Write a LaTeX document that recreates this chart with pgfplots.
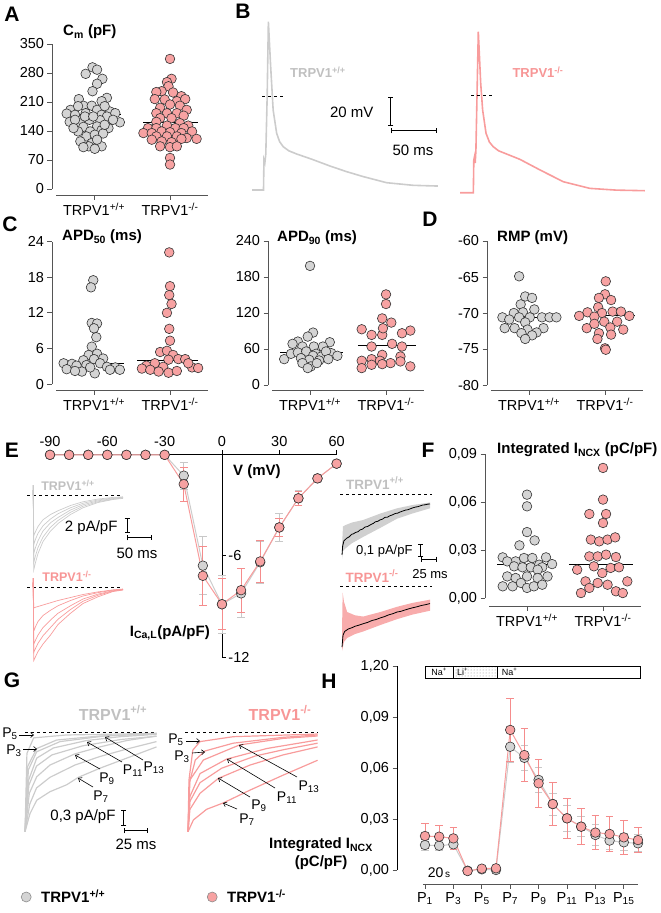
\documentclass[border=0pt]{standalone}
\usepackage{fontspec}
\setmainfont{Liberation Sans}
\usepackage{pgfplots}
\usepackage{pgfplotstable}
\pgfplotsset{compat=1.18}
\usetikzlibrary{patterns,arrows.meta}

\definecolor{wtfill}{RGB}{212,212,212}
\definecolor{kofill}{RGB}{247,162,162}
\definecolor{wttrace}{RGB}{204,204,204}
\definecolor{kotrace}{RGB}{248,156,156}
\definecolor{wttext}{RGB}{192,192,192}
\definecolor{kotext}{RGB}{247,150,150}
\definecolor{axgray}{RGB}{85,85,85}
\definecolor{wterr}{RGB}{200,200,200}
\definecolor{koerr}{RGB}{245,140,140}
\definecolor{wtband}{RGB}{208,208,208}
\definecolor{koband}{RGB}{248,172,172}

\newcommand\fs[1]{\fontsize{#1}{#1}\selectfont}

\pgfplotsset{
  dotax/.style={
    scale only axis, anchor=south west, clip=false,
    width=156pt, xmin=0.447, xmax=2.5,
    axis line style={draw=none},
    tick pos=left, tick align=outside, major tick length=4.5pt,
    tick style={axgray, line width=0.9pt},
    xtick={1,2},
    xticklabels={TRPV1\textsuperscript{+/+},TRPV1\textsuperscript{-/-}},
    tick label style={font=\fs{14.5}},
    scaled y ticks=false,
    /pgf/number format/assume math mode=true,
  },
  wtdot/.style={only marks, mark=*, mark size=4.8pt,
    mark options={fill=wtfill, draw=black!80, line width=0.6pt}},
  kodot/.style={only marks, mark=*, mark size=4.8pt,
    mark options={fill=kofill, draw=black!80, line width=0.6pt}},
  mean/.style={black, line width=0.9pt},
  trace/.style={hide axis, scale only axis, anchor=south west, clip=false},
}
\tikzset{axl/.style={axgray, line width=1pt}}

% ---------- membrane capacitance ----------
\pgfplotstableread{
x y
0.98 293.7
1.04 288
0.89 278
1.11 266
1.04 254
0.98 236
0.80 217
1.17 220
1.10 212
0.86 201
0.97 201
1.04 191
0.69 191
1.21 187
1.28 183
0.64 182
0.75 179
0.89 183
1.10 179
1.17 175
1.34 161
0.68 162
0.82 158
0.94 167
1.08 166
0.86 150
1.04 151
1.19 147
1.10 142
0.79 139
0.95 139
0.90 127
1.01 131
1.12 134
0.82 115
0.97 111
1.10 103
0.93 103
1.01 97
0.75 167
1.25 167
1.14 200
0.79 200
0.88 175
0.99 175
1.14 155
0.73 147
1.04 119
0.86 101
}\cmWT
\pgfplotstableread{
x y
2.00 314
2.02 266
1.96 258
1.98 248
1.89 236
1.82 234
2.04 233
2.15 224
1.80 217
1.93 216
2.09 212
2.20 217
2.00 204
2.13 201
1.87 196
2.22 191
1.82 183
1.96 183
2.09 183
2.18 177
1.87 171
2.02 171
1.82 162
2.13 159
1.96 153
2.24 153
1.71 147
1.82 147
2.07 147
2.18 147
1.65 135
1.76 135
1.89 139
2.00 137
2.15 135
2.29 139
1.82 127
1.96 127
2.09 127
2.22 123
2.35 121
1.76 119
1.89 115
2.02 113
2.15 121
2.00 101
2.09 103
1.87 103
2.00 75
2.00 59
}\cmKO

% ---------- APD50 ----------
\pgfplotstableread{
x y
0.99 17.5
0.96 16.3
0.97 10.3
1.04 10.2
1.00 9.4
1.03 7.9
0.97 6.3
0.93 4.9
1.04 5.1
1.12 4.3
0.86 4.0
1.00 4.2
0.60 3.5
0.71 3.4
0.77 3.1
0.90 3.2
1.08 3.5
1.17 2.9
1.28 2.8
0.64 2.5
0.84 2.1
1.01 1.8
1.21 2.4
1.34 2.4
0.95 2.8
0.75 2.2
}\apdfWT
\pgfplotstableread{
x y
1.99 22.2
2.00 16.5
1.99 15.0
2.02 13.5
1.96 12.0
1.99 9.3
2.00 7.3
1.87 5.4
1.96 5.6
2.04 4.9
2.11 4.2
2.20 4.2
1.98 4.1
1.69 3.1
1.80 3.5
1.63 2.6
1.74 2.4
1.91 2.9
2.29 2.8
2.37 2.7
1.85 2.1
1.98 1.9
2.09 2.2
2.24 3.5
}\apdfKO

% ---------- APD90 ----------
\pgfplotstableread{
x y
1.00 198.5
1.04 87.4
0.97 80.7
0.84 72.4
1.26 71.3
1.17 64.1
0.90 64.1
1.05 64.1
0.77 68.6
0.66 43.1
0.75 52.0
0.84 54.2
0.95 55.9
1.08 52.0
1.28 53.1
1.36 48.7
1.04 48.7
1.15 47.6
1.21 55.9
0.88 44.8
0.99 42.0
1.12 40.9
1.24 43.1
0.90 36.5
1.01 31.0
1.09 36.5
0.97 28.2
}\apdnWT
\pgfplotstableread{
x y
2.00 151
2.00 135
1.95 111
2.07 104
1.68 92.9
2.32 90.7
1.81 83.5
1.95 83.5
2.21 86.3
1.96 94.6
1.81 64.1
2.08 68.6
2.21 64.1
1.95 50.3
2.19 47.6
1.81 43.1
1.68 40.4
1.92 40.4
2.06 36.5
1.81 33.7
2.19 39.3
1.68 28.2
2.32 31.0
1.95 34.8
}\apdnKO

% ---------- resting membrane potential ----------
\pgfplotstableread{
x y
0.87 -64.9
0.95 -67.7
1.04 -67.9
0.89 -68.8
1.07 -69.5
0.80 -70.0
0.92 -69.9
0.65 -70.6
0.74 -70.9
1.17 -70.6
1.27 -70.6
1.36 -70.6
0.87 -70.6
1.01 -70.6
0.95 -71.3
0.81 -72.1
0.68 -72.1
0.98 -72.3
1.19 -72.1
0.90 -72.8
1.10 -72.7
1.04 -73.1
0.95 -73.6
}\rmpWT
\pgfplotstableread{
x y
2.01 -65.6
2.00 -67.4
1.92 -67.9
2.08 -68.2
1.91 -69.2
1.77 -69.9
1.96 -70.0
2.10 -69.8
2.21 -69.8
1.66 -70.4
1.86 -70.5
2.32 -70.4
1.99 -71.2
2.16 -71.2
1.76 -72.1
2.07 -72.0
1.86 -71.5
2.24 -72.3
1.92 -72.8
2.08 -73.0
1.90 -73.6
2.00 -74.9
2.01 -75.1
}\rmpKO

% ---------- integrated NCX current ----------
\pgfplotstableread{
x y
1.00 0.0646
1.00 0.0573
1.00 0.0412
0.90 0.0329
1.10 0.0360
0.68 0.0254
0.96 0.0250
1.07 0.0250
1.25 0.0254
0.85 0.0229
0.74 0.0229
1.33 0.0212
1.16 0.0208
0.83 0.0198
0.94 0.0192
1.05 0.0192
1.20 0.0192
1.14 0.0177
0.74 0.0135
0.85 0.0125
1.00 0.0135
1.14 0.0125
1.27 0.0135
0.68 0.0073
0.81 0.0073
0.92 0.0094
1.00 0.0063
1.09 0.0073
1.20 0.0083
}\ncxWT
\pgfplotstableread{
x y
2.00 0.0813
2.00 0.0615
1.82 0.0525
2.04 0.0525
2.00 0.0469
1.84 0.0365
1.95 0.0354
2.06 0.0365
2.16 0.0379
1.82 0.0260
1.93 0.0260
2.04 0.0271
2.17 0.0256
1.66 0.0177
1.88 0.0198
1.99 0.0156
2.10 0.0188
2.21 0.0192
1.77 0.0104
1.93 0.0094
2.06 0.0083
2.32 0.0104
1.71 0.0031
1.82 0.0063
2.17 0.0042
2.26 0.0031
}\ncxKO

% ---------- L-type Ca current, I-V ----------
\pgfplotstableread{
v i e
-90 -0.05 0
-80 -0.05 0
-70 -0.05 0
-60 -0.05 0
-50 -0.05 0
-40 -0.05 0
-30 -0.05 0
-20 -1.28 0.8
-10 -6.6 1.7
0 -8.88 1.7
10 -8.24 1.45
20 -6.4 1.25
30 -4.34 0.85
40 -2.62 0.45
50 -1.44 0.25
60 -0.57 0.12
}\ivWT
\pgfplotstableread{
v i e
-90 -0.05 0
-80 -0.05 0
-70 -0.05 0
-60 -0.05 0
-50 -0.05 0
-40 -0.05 0
-30 -0.05 0
-20 -1.78 1.0
-10 -7.2 1.75
0 -8.88 1.5
10 -8.05 1.3
20 -6.35 1.25
30 -4.34 0.55
40 -2.62 0.43
50 -1.44 0.2
60 -0.57 0.1
}\ivKO

% current traces (ms, pA/pF)
\pgfplotstableread{
t a1 a2 a3 a4 a5
0 0 0 0 0 0
0.4 1.3 1.3 1.3 1.3 1.3
1.5 -10 -9 -7.8 -6.6 -5.4
5 -9 -8.1 -7.0 -5.9 -4.9
10 -7.8 -7.0 -6.1 -5.1 -4.2
20 -6.2 -5.6 -4.8 -4.1 -3.3
35 -4.8 -4.3 -3.7 -3.2 -2.6
50 -3.8 -3.4 -3.0 -2.5 -2.1
75 -2.6 -2.3 -2.0 -1.7 -1.4
100 -1.7 -1.5 -1.3 -1.1 -0.9
130 -1.0 -0.9 -0.78 -0.66 -0.54
160 -0.6 -0.54 -0.47 -0.40 -0.32
180 -0.45 -0.40 -0.35 -0.30 -0.24
}\icaWT
\pgfplotstableread{
t a1 a2 a3 a4 a5
0 0 0 0 0 0
0.4 1.2 1.2 1.2 1.2 1.2
1.5 -9.8 -8.7 -7.6 -5.9 -2.8
5 -9.3 -8.2 -7.1 -5.3 -2.7
10 -8.6 -7.5 -6.4 -4.6 -2.6
20 -7.6 -6.5 -5.4 -3.8 -2.4
35 -6.4 -5.4 -4.4 -3.1 -2.1
50 -5.0 -4.3 -3.5 -2.5 -1.8
75 -3.5 -3.0 -2.5 -1.8 -1.4
100 -2.2 -1.9 -1.6 -1.2 -1.0
130 -1.3 -1.1 -0.95 -0.75 -0.65
160 -0.6 -0.55 -0.5 -0.42 -0.38
180 -0.4 -0.37 -0.33 -0.3 -0.27
}\icaKO

% ---------- integrated NCX during the Na/Li protocol ----------
\pgfplotstableread{
p v e
1 0.0147 0.003
2 0.0143 0.003
3 0.0151 0.003
4 -0.0004 0.0015
5 0.0004 0.001
6 0.0000 0.001
7 0.0725 0.009
8 0.0660 0.0075
9 0.0530 0.0075
10 0.0388 0.0065
11 0.0304 0.0075
12 0.0255 0.006
13 0.0206 0.006
14 0.0173 0.005
15 0.0163 0.005
16 0.0157 0.005
}\pulWT
\pgfplotstableread{
p v e
1 0.0200 0.0075
2 0.0196 0.0067
3 0.0186 0.0063
4 -0.0006 0.001
5 0.0008 0.001
6 0.0010 0.001
7 0.0824 0.0186
8 0.0676 0.0155
9 0.0510 0.0143
10 0.0388 0.0128
11 0.0304 0.0118
12 0.0255 0.0105
13 0.0220 0.0102
14 0.0212 0.0102
15 0.0192 0.0098
16 0.0176 0.0072
}\pulKO

\begin{document}
\begin{tikzpicture}[x=1pt,y=1pt]
\useasboundingbox (0,0) rectangle (661,-913);

% ===== A: Cm =====
\begin{axis}[dotax, at={(52pt,-195pt)}, height=151pt,
  ymin=-14.5, ymax=350, ytick={0,70,...,350}]
  \draw[axl] (axis cs:0.447,0) -- (axis cs:0.447,350);
  \draw[axl] (axis cs:0.5,-14.5) -- (axis cs:2.5,-14.5);
  \addplot[wtdot] table {\cmWT};
  \addplot[kodot] table {\cmKO};
  \addplot[mean] coordinates {(0.66,179) (1.36,179)};
  \addplot[mean] coordinates {(1.65,160) (2.37,160)};
\end{axis}

% ===== B: action potentials =====
\begin{axis}[trace, at={(252pt,-197.5pt)}, width=185.8pt, height=181.25pt,
  xmin=0, xmax=202, ymin=-70, ymax=55]
  \addplot[wttrace, line width=1.6pt] coordinates {
    (0,-64.8) (12.5,-64.8) (13,-44) (14,-46) (15,-40) (16.5,0) (17.8,51.3)
    (20.3,20.2) (23,-9.7) (26.8,-25.7) (30,-31.5) (34,-35) (40,-37.8) (48.6,-40)
    (65,-43.6) (84.8,-48.3) (103,-52.2) (121,-55.6) (146.4,-59.8) (175.3,-61.6) (202,-62.1)};
  \draw[black, dashed, line width=0.7pt] (axis cs:10.9,0) -- (axis cs:35.9,0);
  \draw[black, line width=1pt, {Bar[width=5pt]}-{Bar[width=5pt]}] (axis cs:151,-0.7) -- (axis cs:151,-20.7);
  \draw[black, line width=1pt, {Bar[width=5pt]}-{Bar[width=5pt]}] (axis cs:151,-24) -- (axis cs:201,-24);
\end{axis}
\begin{axis}[trace, at={(460pt,-196.5pt)}, width=185.8pt, height=181.25pt,
  xmin=0, xmax=202, ymin=-70, ymax=55]
  \addplot[kotrace, line width=1.6pt] coordinates {
    (0,-67.4) (14.5,-67.4) (15,-45) (15.8,-42.5) (16.5,-47) (17.3,-38) (18.5,0) (19.9,43.7)
    (22.5,8.1) (24.6,-10.3) (28.3,-26.4) (32,-32.5) (36.2,-35.7) (42,-38.5) (50.7,-40.7)
    (65.2,-44.4) (87,-51.7) (112.3,-59.8) (141.3,-64.4) (170,-65.6) (201,-66)};
  \draw[black, dashed, line width=0.7pt] (axis cs:12,0) -- (axis cs:35.9,0);
\end{axis}

% ===== C: APD50 =====
\begin{axis}[dotax, at={(52pt,-390pt)}, height=148.3pt,
  ymin=-1.01, ymax=24, ytick={0,6,...,24}]
  \draw[axl] (axis cs:0.447,0) -- (axis cs:0.447,24);
  \draw[axl] (axis cs:0.5,-1.01) -- (axis cs:2.5,-1.01);
  \addplot[wtdot] table {\apdfWT};
  \addplot[kodot] table {\apdfKO};
  \addplot[mean] coordinates {(0.57,3.5) (1.39,3.5)};
  \addplot[mean] coordinates {(1.57,4.0) (2.37,4.0)};
\end{axis}

% ===== C: APD90 =====
\begin{axis}[dotax, at={(268pt,-390pt)}, height=149pt,
  ymin=-8.33, ymax=240, ytick={0,60,...,240}]
  \draw[axl] (axis cs:0.447,0) -- (axis cs:0.447,240);
  \draw[axl] (axis cs:0.5,-8.33) -- (axis cs:2.5,-8.33);
  \addplot[wtdot] table {\apdnWT};
  \addplot[kodot] table {\apdnKO};
  \addplot[mean] coordinates {(0.61,54.2) (1.44,54.2)};
  \addplot[mean] coordinates {(1.63,66.4) (2.40,66.4)};
\end{axis}

% ===== D: RMP =====
\begin{axis}[dotax, at={(487pt,-390pt)}, height=149pt,
  ymin=-80.69, ymax=-60, ytick={-80,-75,...,-60}]
  \draw[axl] (axis cs:0.447,-80) -- (axis cs:0.447,-60);
  \draw[axl] (axis cs:0.5,-80.69) -- (axis cs:2.5,-80.69);
  \addplot[wtdot] table {\rmpWT};
  \addplot[kodot] table {\rmpKO};
  \addplot[mean] coordinates {(0.59,-70.6) (1.41,-70.6)};
  \addplot[mean] coordinates {(1.61,-70.4) (2.39,-70.4)};
\end{axis}

% ===== E: I-V relation =====
\begin{axis}[scale only axis, anchor=south west, at={(50pt,-657pt)},
  width=286.6pt, height=203pt, clip=false,
  xmin=-90, xmax=60, ymin=-12, ymax=0,
  axis x line=top, axis y line=none,
  axis line style={-, black, line width=0.9pt},
  xtick={-90,-60,...,60}, ytick=\empty,
  tick align=outside, major tick length=4pt,
  tick style={black, line width=0.9pt},
  tick label style={font=\fs{14.5}},
  /pgf/number format/assume math mode=true]
  \draw[black, line width=0.9pt] (axis cs:0,0) -- (axis cs:0,-12);
  \draw[black, line width=0.9pt] (axis cs:0,-6) -- (axis cs:2.1,-6);
  \draw[black, line width=0.9pt] (axis cs:0,-12) -- (axis cs:2.1,-12);
  \node[anchor=west, font=\fs{14.5}, inner sep=0pt] at (axis cs:3.3,-6) {-6};
  \node[anchor=west, font=\fs{14.5}, inner sep=0pt] at (axis cs:3.3,-12) {-12};
  \addplot[color=wttrace, line width=1pt, mark=*, mark size=4.8pt,
    mark options={fill=wtfill, draw=black!80, line width=0.6pt},
    error bars/.cd, y dir=both, y explicit,
    error bar style={color=wterr, line width=0.9pt},
    error mark options={rotate=90, mark size=3.8pt, color=wterr, line width=0.9pt}]
    table[x=v, y=i, y error=e] {\ivWT};
  \addplot[color=kotrace, line width=1pt, mark=*, mark size=4.8pt,
    mark options={fill=kofill, draw=black!80, line width=0.6pt},
    error bars/.cd, y dir=both, y explicit,
    error bar style={color=koerr, line width=0.9pt},
    error mark options={rotate=90, mark size=3.8pt, color=koerr, line width=0.9pt}]
    table[x=v, y=i, y error=e] {\ivKO};
\end{axis}

% E insets: Ca current traces
\begin{axis}[trace, at={(28pt,-577.5pt)}, width=95pt, height=93.75pt,
  xmin=-10, xmax=180, ymin=-11, ymax=1.5]
  \draw[black, dashed, line width=0.6pt] (axis cs:-12,0) -- (axis cs:178,0);
  \addplot[wttrace, line width=0.7pt] table[x=t,y=a1] {\icaWT};
  \addplot[wttrace, line width=0.7pt] table[x=t,y=a2] {\icaWT};
  \addplot[wttrace, line width=0.7pt] table[x=t,y=a3] {\icaWT};
  \addplot[wttrace, line width=0.7pt] table[x=t,y=a4] {\icaWT};
  \addplot[wttrace, line width=0.7pt] table[x=t,y=a5] {\icaWT};
  \draw[black, line width=1pt, {Bar[width=5pt]}-{Bar[width=5pt]}] (axis cs:188,-3.07) -- (axis cs:188,-5.07);
  \draw[black, line width=1pt, {Bar[width=5pt]}-{Bar[width=5pt]}] (axis cs:188,-5.73) -- (axis cs:238,-5.73);
\end{axis}
\begin{axis}[trace, at={(28pt,-669.5pt)}, width=95pt, height=93.75pt,
  xmin=-10, xmax=180, ymin=-11, ymax=1.5]
  \draw[black, dashed, line width=0.6pt] (axis cs:-12,0) -- (axis cs:178,0);
  \addplot[kotrace, line width=0.7pt] table[x=t,y=a1] {\icaKO};
  \addplot[kotrace, line width=0.7pt] table[x=t,y=a2] {\icaKO};
  \addplot[kotrace, line width=0.7pt] table[x=t,y=a3] {\icaKO};
  \addplot[kotrace, line width=0.7pt] table[x=t,y=a4] {\icaKO};
  \addplot[kotrace, line width=0.7pt] table[x=t,y=a5] {\icaKO};
\end{axis}

% E insets: averaged NCX current traces with SEM bands
\begin{axis}[trace, at={(340.1pt,-559pt)}, width=91.5pt, height=78pt,
  xmin=-3, xmax=140, ymin=-0.5, ymax=0.1]
  \draw[black, dashed, line width=0.6pt] (axis cs:-3,0) -- (axis cs:140,0);
  \addplot[fill=wtband, draw=none] coordinates {
    (0,-0.40) (1.5,-0.25) (5,-0.24) (15,-0.22) (33,-0.20) (60,-0.15) (86,-0.11)
    (110,-0.085) (137.5,-0.065)
    (137.5,-0.11) (110,-0.15) (86,-0.19) (60,-0.26) (33,-0.33) (15,-0.38)
    (5,-0.42) (1.5,-0.44) (0,-0.50)};
  \addplot[black, line width=0.8pt] coordinates {
    (0,-0.469) (1,-0.40) (3,-0.36) (7.8,-0.338) (11,-0.33) (15,-0.31) (18,-0.306)
    (21,-0.296) (25,-0.29) (28,-0.277) (32,-0.27) (36,-0.254) (40,-0.25) (45,-0.235)
    (49,-0.226) (52,-0.214) (56,-0.21) (59,-0.2) (63,-0.194) (67,-0.18) (71,-0.178)
    (75,-0.167) (79,-0.16) (83,-0.15) (87,-0.147) (91,-0.138) (95,-0.131) (99,-0.124)
    (103,-0.121) (107,-0.113) (111,-0.106) (115,-0.1) (118,-0.098) (122,-0.092)
    (126,-0.085) (130,-0.083) (134,-0.078) (137.5,-0.077)};
  \draw[black, line width=1pt, {Bar[width=5pt]}-{Bar[width=5pt]}] (axis cs:123.4,-0.385) -- (axis cs:123.4,-0.485);
  \draw[black, line width=1pt, {Bar[width=5pt]}-{Bar[width=5pt]}] (axis cs:123.4,-0.5) -- (axis cs:148.4,-0.5);
\end{axis}
\begin{axis}[trace, at={(340.1pt,-651pt)}, width=91.5pt, height=78pt,
  xmin=-3, xmax=140, ymin=-0.5, ymax=0.1]
  \draw[black, dashed, line width=0.6pt] (axis cs:-3,0) -- (axis cs:140,0);
  \addplot[fill=koband, draw=none] coordinates {
    (0,-0.35) (1,-0.05) (3,-0.12) (8,-0.20) (20,-0.225) (33,-0.235) (60,-0.20)
    (86,-0.16) (110,-0.13) (137.5,-0.105)
    (137.5,-0.19) (110,-0.22) (86,-0.255) (60,-0.30) (33,-0.35) (20,-0.37)
    (8,-0.40) (3,-0.43) (0,-0.50)};
  \addplot[black, line width=0.8pt] coordinates {
    (0,-0.47) (1.5,-0.38) (4,-0.35) (10,-0.33) (15,-0.322) (20,-0.31) (26,-0.302)
    (33,-0.29) (40,-0.28) (47,-0.265) (53,-0.258) (60,-0.245) (66,-0.236) (73,-0.222)
    (80,-0.212) (86,-0.2) (92,-0.195) (98,-0.185) (104,-0.176) (110,-0.168) (117,-0.16)
    (124,-0.15) (131,-0.143) (137.5,-0.135)};
\end{axis}

% ===== F: integrated NCX =====
\begin{axis}[dotax, at={(485pt,-606pt)}, height=152pt,
  ymin=-0.005, ymax=0.09, ytick={0,0.03,0.06,0.09},
  yticklabels={{0,00},{0,03},{0,06},{0,09}}]
  \draw[axl] (axis cs:0.447,0) -- (axis cs:0.447,0.09);
  \draw[axl] (axis cs:0.5,-0.005) -- (axis cs:2.5,-0.005);
  \addplot[wtdot] table {\ncxWT};
  \addplot[kodot] table {\ncxKO};
  \addplot[mean] coordinates {(0.61,0.0207) (1.38,0.0207)};
  \addplot[mean] coordinates {(1.55,0.0207) (2.39,0.0207)};
\end{axis}

% ===== G: NCX current traces per pulse =====
\begin{axis}[trace, at={(23.1pt,-838.6pt)}, width=136.3pt, height=122.6pt,
  xmin=-2, xmax=140, ymin=-2, ymax=0.3]
  \draw[black, dashed, line width=0.7pt] (axis cs:0,0) -- (axis cs:137.5,0);
  \addplot[wttrace, line width=1.2pt] coordinates {(0,-1.87) (5.2,-1.53) (12.2,-1.28) (26,-1.12) (43.4,-0.99) (55.6,-0.85) (78,-0.68) (106,-0.49) (137,-0.28)};
  \addplot[wttrace, line width=1.2pt] coordinates {(0,-1.87) (5,-1.35) (12,-1.05) (26,-0.85) (52,-0.62) (78,-0.46) (106,-0.32) (137,-0.18)};
  \addplot[wttrace, line width=1.2pt] coordinates {(0,-1.87) (4.5,-1.15) (12.2,-0.84) (26,-0.62) (52,-0.41) (78,-0.28) (106,-0.16) (137,-0.075)};
  \addplot[wttrace, line width=1.2pt] coordinates {(0,-1.87) (4,-1.0) (12,-0.64) (28,-0.43) (60,-0.26) (100,-0.14) (137,-0.08)};
  \addplot[wttrace, line width=1.2pt] coordinates {(0,-1.87) (3.8,-0.9) (12.2,-0.49) (29.5,-0.30) (64,-0.16) (99,-0.088) (137,-0.044)};
  \addplot[wttrace, line width=1.2pt] coordinates {(0,-1.87) (3.5,-0.71) (12.2,-0.37) (36.5,-0.18) (83,-0.075) (137,-0.025)};
  \addplot[wttrace, line width=1.2pt] coordinates {(0,-1.87) (2.6,-0.65) (12.2,-0.31) (33,-0.15) (78,-0.075) (137,-0.038)};
  \addplot[wttrace, line width=1.2pt] coordinates {(0,-1.87) (2,-0.40) (9,-0.11) (43,-0.056) (137,-0.025)};
  \draw[black, line width=1pt, {Bar[width=5pt]}-{Bar[width=5pt]}] (axis cs:103,-1.463) -- (axis cs:103,-1.763);
  \draw[black, line width=1pt, {Bar[width=5pt]}-{Bar[width=5pt]}] (axis cs:103,-1.857) -- (axis cs:128,-1.857);
\end{axis}
\begin{axis}[trace, at={(186.1pt,-838.6pt)}, width=136.3pt, height=122.6pt,
  xmin=-2, xmax=140, ymin=-2, ymax=0.3]
  \draw[black, dashed, line width=0.7pt] (axis cs:-3,0) -- (axis cs:135.4,0);
  \addplot[kotrace, line width=1.2pt] coordinates {(0,-1.87) (5.6,-1.65) (12.5,-1.55) (19.4,-1.45) (36.8,-1.33) (64.6,-1.09) (99,-0.81) (135,-0.53)};
  \addplot[kotrace, line width=1.2pt] coordinates {(0,-1.87) (2,-1.45) (12.5,-1.15) (31.6,-0.87) (64.6,-0.62) (99,-0.43) (135,-0.28)};
  \addplot[kotrace, line width=1.2pt] coordinates {(0,-1.87) (2,-1.3) (12.5,-0.95) (35,-0.68) (70,-0.45) (100,-0.33) (135,-0.21)};
  \addplot[kotrace, line width=1.2pt] coordinates {(0,-1.87) (2,-1.21) (12.5,-0.78) (40,-0.51) (82,-0.31) (135,-0.15)};
  \addplot[kotrace, line width=1.2pt] coordinates {(0,-1.87) (2,-0.9) (16,-0.525) (53.5,-0.244) (99,-0.12) (135,-0.075)};
  \addplot[kotrace, line width=1.2pt] coordinates {(0,-1.87) (1.5,-0.95) (7.6,-0.525) (17.7,-0.356) (47,-0.21) (99,-0.1) (135,-0.056)};
  \addplot[kotrace, line width=1.2pt] coordinates {(0,-1.87) (1,-0.9) (5,-0.34) (12.5,-0.18) (47,-0.088) (135,-0.038)};
\end{axis}

% ===== H: integrated NCX per pulse =====
\begin{axis}[scale only axis, anchor=south west, at={(397pt,-884pt)},
  width=241pt, height=218pt, clip=false,
  xmin=-0.97, xmax=16, ymin=-0.00824, ymax=0.12,
  axis line style={draw=none},
  tick pos=left, tick align=outside, major tick length=4.5pt,
  tick style={axgray, line width=0.9pt},
  scaled y ticks=false,
  xtick={1,3,...,15},
  xticklabels={P\textsubscript{1},P\textsubscript{3},P\textsubscript{5},P\textsubscript{7},P\textsubscript{9},P\textsubscript{11},P\textsubscript{13},P\textsubscript{15}},
  ytick={0,0.03,0.06,0.09,0.12},
  yticklabels={{0,00},{0,03},{0,06},{0,09},{1,20}},
  tick label style={font=\fs{14.5}}]
  \draw[black, line width=1pt] (axis cs:-0.97,0) -- (axis cs:-0.97,0.12);
  \draw[axl] (axis cs:0.86,-0.00824) -- (axis cs:16,-0.00824);
  % solution protocol bar
  \fill[pattern=dots, pattern color=black!45] (axis cs:3,0.1129) rectangle (axis cs:6.07,0.12);
  \draw[black, line width=0.6pt] (axis cs:1,0.1129) rectangle (axis cs:16.14,0.12);
  \draw[black, line width=0.6pt] (axis cs:3,0.1129) -- (axis cs:3,0.12);
  \draw[black, line width=0.6pt] (axis cs:6.07,0.1129) -- (axis cs:6.07,0.12);
  \node[font=\fs{9}, inner sep=0pt] at (axis cs:2,0.11645) {Na\textsuperscript{+}};
  \node[font=\fs{9}, inner sep=0pt, anchor=west] at (axis cs:3.25,0.11645) {Li\textsuperscript{+}};
  \node[font=\fs{9}, inner sep=0pt, anchor=west] at (axis cs:6.4,0.11645) {Na\textsuperscript{+}};
  \addplot[color=wttrace, line width=1pt, mark=*, mark size=4.8pt,
    mark options={fill=wtfill, draw=black!80, line width=0.6pt},
    error bars/.cd, y dir=both, y explicit,
    error bar style={color=wterr, line width=0.9pt},
    error mark options={rotate=90, mark size=3.8pt, color=wterr, line width=0.9pt}]
    table[x=p, y=v, y error=e] {\pulWT};
  \addplot[color=kotrace, line width=1pt, mark=*, mark size=4.8pt,
    mark options={fill=kofill, draw=black!80, line width=0.6pt},
    error bars/.cd, y dir=both, y explicit,
    error bar style={color=koerr, line width=0.9pt},
    error mark options={rotate=90, mark size=3.8pt, color=koerr, line width=0.9pt}]
    table[x=p, y=v, y error=e] {\pulKO};
\end{axis}

% ===== legend =====
\begin{axis}[hide axis, scale only axis, anchor=south west, at={(18pt,-902pt)},
  width=10pt, height=10pt, xmin=0, xmax=1, ymin=0, ymax=1,
  legend columns=2,
  legend style={at={(0,0.5)}, anchor=west, draw=none, fill=none,
    font=\bfseries\fs{15},
    /tikz/every odd column/.append style={column sep=8pt},
    /tikz/every even column/.append style={column sep=100pt}},
  legend cell align=left]
  \addlegendimage{only marks, mark=*, mark size=5pt, mark options={fill=wtfill, draw=black!45, line width=0.6pt}}
  \addlegendentry{TRPV1\textsuperscript{+/+}}
  \addlegendimage{only marks, mark=*, mark size=5pt, mark options={fill=kofill, draw=black!45, line width=0.6pt}}
  \addlegendentry{TRPV1\textsuperscript{-/-}}
\end{axis}

% ===== panel letters =====
\begin{scope}[every node/.style={font=\bfseries\fs{21}, inner sep=0pt}]
  \node at (12,-14) {A};
  \node at (243,-11) {B};
  \node at (10,-224) {C};
  \node at (430,-219) {D};
  \node at (12,-450) {E};
  \node at (428,-450) {F};
  \node at (12,-680) {G};
  \node at (329,-681) {H};
\end{scope}

% ===== titles and labels =====
\begin{scope}[every node/.style={font=\bfseries\fs{15}, inner sep=0pt}]
  \node[anchor=west] at (63,-32) {C\textsubscript{m} (pF)};
  \node[anchor=west] at (62,-237) {APD\textsubscript{50} (ms)};
  \node[anchor=west] at (277,-238) {APD\textsubscript{90} (ms)};
  \node[anchor=west] at (497,-238) {RMP (mV)};
  \node[anchor=west] at (497,-450) {Integrated I\textsubscript{NCX} (pC/pF)};
  \node[anchor=west] at (233,-472) {V (mV)};
  \node[anchor=east] at (210,-633) {I\textsubscript{Ca,L}(pA/pF)};
  \node[align=center, font=\bfseries\fs{15}\linespread{1.2}\selectfont] at (321,-854) {Integrated I\textsubscript{NCX}\\(pC/pF)};
\end{scope}

% genotype labels on the traces
\node[font=\bfseries\fs{13}, text=wttext] at (318,-72) {TRPV1\textsuperscript{+/+}};
\node[font=\bfseries\fs{13}, text=kotext] at (538,-72) {TRPV1\textsuperscript{-/-}};
\node[font=\bfseries\fs{12.5}, text=wttext] at (68,-485) {TRPV1\textsuperscript{+/+}};
\node[font=\bfseries\fs{12.5}, text=kotext] at (67,-576) {TRPV1\textsuperscript{-/-}};
\node[font=\bfseries\fs{13.5}, text=wttext] at (375,-483) {TRPV1\textsuperscript{+/+}};
\node[font=\bfseries\fs{13.5}, text=kotext] at (372,-576) {TRPV1\textsuperscript{-/-}};
\node[font=\bfseries\fs{16}, text=wttext] at (113,-713) {TRPV1\textsuperscript{+/+}};
\node[font=\bfseries\fs{16}, text=kotext] at (280,-713) {TRPV1\textsuperscript{-/-}};

% scale bar labels
\node[font=\fs{15}, anchor=east] at (377,-112) {20 mV};
\node[font=\fs{15}] at (413,-150) {50 ms};
\node[font=\fs{15}, anchor=east] at (121,-528) {2 pA/pF};
\node[font=\fs{15}] at (137,-553) {50 ms};
\node[font=\fs{13}, anchor=east] at (416,-551) {0,1 pA/pF};
\node[font=\fs{13}] at (430,-574) {25 ms};
\node[font=\fs{15}, anchor=east] at (119,-817) {0,3 pA/pF};
\node[font=\fs{15}] at (136,-844) {25 ms};
\node at (439,-873) {{\fs{14}20}\,{\fs{10}s}};

% pulse annotations
\begin{scope}[every node/.style={font=\fs{14}, inner sep=0pt},
  pa/.style={-{Straight Barb[length=3pt,width=5pt]}, line width=0.6pt}]
  \node at (10,-734) {P\textsubscript{5}};
  \draw[pa] (19,-735) -- (34,-735);
  \node at (14,-751) {P\textsubscript{3}};
  \draw[pa] (23,-749) -- (37,-749);
  \node at (107,-779) {P\textsubscript{9}};
  \draw[pa] (100,-769) -- (75,-755);
  \node at (101,-797) {P\textsubscript{7}};
  \draw[pa] (93,-787) -- (78,-778);
  \node at (133,-771) {P\textsubscript{11}};
  \draw[pa] (122,-762) -- (87,-742);
  \node at (154,-768) {P\textsubscript{13}};
  \draw[pa] (143,-760) -- (105,-737);
  \node at (176,-740) {P\textsubscript{5}};
  \draw[pa] (186,-741) -- (200,-741);
  \node at (182,-757) {P\textsubscript{3}};
  \draw[pa] (192,-753) -- (205,-752);
  \node at (309,-787) {P\textsubscript{13}};
  \draw[pa] (297,-777) -- (239,-745);
  \node at (287,-798) {P\textsubscript{11}};
  \draw[pa] (275,-788) -- (227,-759);
  \node at (259,-806) {P\textsubscript{9}};
  \draw[pa] (250,-797) -- (218,-778);
  \node at (247,-820) {P\textsubscript{7}};
  \draw[pa] (237,-809) -- (223,-803);
\end{scope}
\end{tikzpicture}
\end{document}
